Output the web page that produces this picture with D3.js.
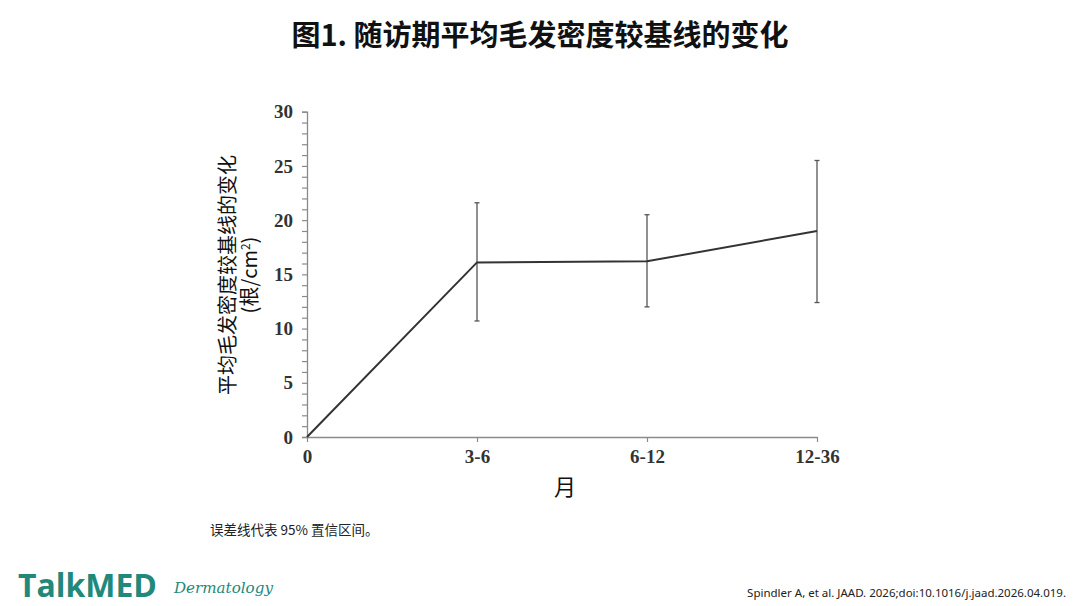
<!DOCTYPE html>
<html>
<head>
<meta charset="utf-8">
<script src="https://cdn.jsdelivr.net/npm/d3@7"></script>
<style>
  body { margin: 0; background: #fff; }
  svg { display: block; }
</style>
</head>
<body>
<svg id="chart" width="1080" height="606"></svg>
<script>
// data
const categories = ["0", "3-6", "6-12", "12-36"];
const meanChange = [0, 16.1, 16.2, 19.0];
const ciLower = [null, 10.7, 12.0, 12.4];
const ciUpper = [null, 21.6, 20.5, 25.5];
const yTicks = [0, 5, 10, 15, 20, 25, 30];

const svg = d3.select("#chart");
const W = 1080, H = 606;
const cjk = "'Noto Sans CJK SC', 'Noto Sans', sans-serif";
const serif = "'Liberation Serif', 'DejaVu Serif', serif";
const teal = "#21897b";

// title
svg.append("text")
    .attr("x", W / 2).attr("y", 46)
    .attr("text-anchor", "middle")
    .attr("font-family", cjk)
    .attr("font-weight", "bold")
    .attr("font-size", 29)
    .attr("fill", "#111")
    .text("图1. 随访期平均毛发密度较基线的变化");

// plot area
const x0 = 307, x1 = 817, yTop = 111.7, yBot = 437;
const x = d3.scalePoint().domain(categories).range([x0, x1]);
const y = d3.scaleLinear().domain([0, 30]).range([yBot, yTop]);

const body = svg.append("g");

// y axis: major ticks with labels, minor ticks every 1
const yAxis = body.append("g")
    .attr("transform", `translate(${x0},0)`)
    .call(d3.axisLeft(y).tickValues(d3.range(0, 31, 1)).tickSize(5)
        .tickFormat(d => yTicks.includes(d) ? d : ""));
yAxis.select(".domain").attr("stroke", "#8a8a8a").attr("stroke-width", 1.3);
yAxis.selectAll(".tick line").attr("stroke", "#8a8a8a").attr("stroke-width", 1.2);
yAxis.selectAll(".tick text")
    .attr("x", -14)
    .attr("font-family", serif)
    .attr("font-weight", "bold")
    .attr("font-size", 19)
    .attr("fill", "#333");

// x axis
const xAxis = body.append("g")
    .attr("transform", `translate(0,${yBot})`)
    .call(d3.axisBottom(x).tickSize(5).tickSizeOuter(0));
xAxis.select(".domain").attr("stroke", "#8a8a8a").attr("stroke-width", 1.3);
xAxis.selectAll(".tick line").attr("stroke", "#8a8a8a").attr("stroke-width", 1.2);
xAxis.selectAll(".tick text")
    .attr("y", 13)
    .attr("font-family", serif)
    .attr("font-weight", "bold")
    .attr("font-size", 19)
    .attr("fill", "#333");

// error bars
const bars = categories.map((c, i) => ({c, lo: ciLower[i], hi: ciUpper[i]})).filter(d => d.lo !== null);
const eb = body.append("g").attr("stroke", "#555").attr("stroke-width", 1.3);
bars.forEach(d => {
    eb.append("line").attr("x1", x(d.c)).attr("x2", x(d.c)).attr("y1", y(d.lo)).attr("y2", y(d.hi));
    eb.append("line").attr("x1", x(d.c) - 2.5).attr("x2", x(d.c) + 2.5).attr("y1", y(d.lo)).attr("y2", y(d.lo));
    eb.append("line").attr("x1", x(d.c) - 2.5).attr("x2", x(d.c) + 2.5).attr("y1", y(d.hi)).attr("y2", y(d.hi));
});

// mean line
const line = d3.line().x((d, i) => x(categories[i])).y(d => y(d));
body.append("path")
    .datum(meanChange)
    .attr("d", line)
    .attr("fill", "none")
    .attr("stroke", "#333")
    .attr("stroke-width", 2);

// axis labels
const yl = svg.append("text")
    .attr("transform", "translate(235,275) rotate(-90)")
    .attr("text-anchor", "middle")
    .attr("font-family", cjk)
    .attr("font-size", 20)
    .attr("fill", "#111");
yl.append("tspan").attr("x", 0).attr("dy", 0).text("平均毛发密度较基线的变化");
yl.append("tspan").attr("x", 0).attr("dy", 22).text("(根/cm");
yl.append("tspan").attr("dy", -7).attr("font-size", 12).text("2");
yl.append("tspan").attr("dy", 7).text(")");

svg.append("text")
    .attr("x", 565).attr("y", 495)
    .attr("text-anchor", "middle")
    .attr("font-family", cjk)
    .attr("font-size", 22)
    .attr("fill", "#111")
    .text("月");

// footnote
svg.append("text")
    .attr("x", 210).attr("y", 535)
    .attr("font-family", cjk)
    .attr("font-size", 13.5)
    .attr("fill", "#222")
    .text("误差线代表 95% 置信区间。");

// brand: pick a font size so the word fills the logo's width
function fitted(px, py, width, maxSize, attrs, txt) {
    const t = svg.append("text").attr("x", px).attr("y", py).text(txt);
    Object.entries(attrs).forEach(([k, v]) => t.attr(k, v));
    t.attr("font-size", maxSize);
    const s = Math.min(1, width / t.node().getComputedTextLength());
    t.attr("font-size", maxSize * s);
}
fitted(18, 597, 139, 44, {
    "font-family": "'Liberation Sans Narrow', 'Open Sans', 'Noto Sans', sans-serif",
    "font-weight": "bold", "fill": teal
}, "TalkMED");
fitted(174, 593, 99, 16, {
    "font-family": "'DejaVu Serif', serif",
    "font-style": "italic", "fill": teal
}, "Dermatology");

// citation
svg.append("text")
    .attr("x", 1066).attr("y", 597)
    .attr("text-anchor", "end")
    .attr("font-family", "'Noto Sans', 'Open Sans', sans-serif")
    .attr("font-size", 11.5)
    .attr("fill", "#222")
    .text("Spindler A, et al. JAAD. 2026;doi:10.1016/j.jaad.2026.04.019.");
</script>
</body>
</html>
